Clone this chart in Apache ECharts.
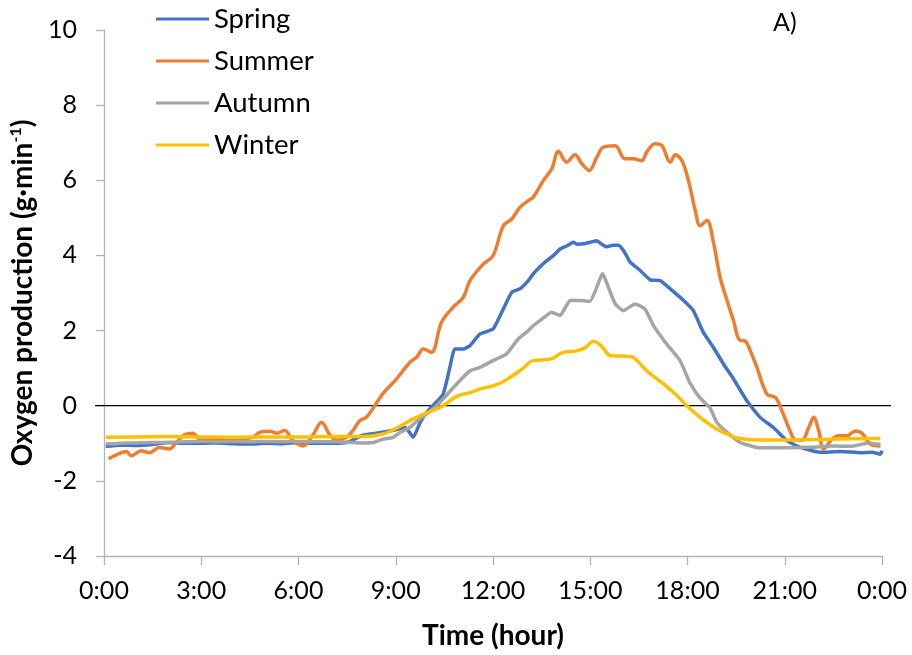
<!DOCTYPE html>
<html>
<head>
<meta charset="utf-8">
<script src="https://cdn.jsdelivr.net/npm/echarts@6/dist/echarts.min.js"></script>
<style>
html,body{margin:0;padding:0;background:#fff;}
#c{width:912px;height:655px;}
</style>
</head>
<body>
<div id="c"></div>
<script>
// ---- data (hours since midnight, oxygen production g/min) ----
const seriesNames = ['Spring', 'Summer', 'Autumn', 'Winter'];

const springT = [0.05,0.5,1,1.5,2,2.5,3,3.5,4,4.5,5,5.5,6,6.5,7,7.5,8,8.5,9,9.3,9.54,9.75,9.95,10.2,10.46,10.67,10.82,11.08,11.29,11.6,12.0,12.27,12.58,12.83,13.09,13.24,13.45,13.66,13.87,14.07,14.27,14.48,14.6,14.79,15.0,15.2,15.35,15.51,15.7,15.87,16.05,16.23,16.54,16.85,17.16,17.47,17.88,18.18,18.49,18.8,19.11,19.42,19.83,20.24,20.65,21.07,21.48,22.1,22.72,23.34,23.7,23.95,24.0];
const springV = [-1.08,-1.05,-1.06,-1.03,-0.98,-1.0,-1.0,-0.99,-1.01,-1.02,-1.0,-1.01,-0.98,-1.0,-1.0,-0.98,-0.78,-0.72,-0.64,-0.58,-0.84,-0.45,-0.18,0.05,0.3,1.02,1.51,1.51,1.6,1.91,2.04,2.49,3.02,3.11,3.33,3.51,3.7,3.86,4.0,4.17,4.25,4.35,4.3,4.31,4.35,4.39,4.3,4.23,4.27,4.27,4.1,3.82,3.6,3.35,3.33,3.11,2.8,2.53,1.95,1.55,1.11,0.71,0.13,-0.31,-0.58,-0.93,-1.11,-1.24,-1.22,-1.25,-1.24,-1.29,-1.2];

const summerT = [0.14,0.4,0.69,0.84,1.15,1.4,1.71,2.02,2.23,2.49,2.74,2.95,3.4,3.77,4.2,4.6,4.8,5.11,5.32,5.57,5.83,6.14,6.45,6.71,6.96,7.17,7.48,7.68,7.89,8.1,8.35,8.61,9.02,9.43,9.64,9.85,10.1,10.41,10.77,11.08,11.29,11.7,12.0,12.32,12.58,12.83,13.09,13.24,13.55,13.81,14.02,14.27,14.53,14.74,14.97,15.2,15.4,15.77,16.07,16.33,16.59,16.74,17.0,17.21,17.47,17.62,17.83,18.03,18.24,18.39,18.6,18.8,19.01,19.22,19.42,19.6,19.78,19.94,20.14,20.45,20.71,20.91,21.12,21.33,21.53,21.74,21.89,22.05,22.2,22.46,22.66,22.92,23.18,23.38,23.64,23.95];
const summerV = [-1.41,-1.3,-1.22,-1.33,-1.2,-1.25,-1.11,-1.15,-0.98,-0.77,-0.73,-0.89,-0.9,-0.91,-0.88,-0.84,-0.71,-0.68,-0.73,-0.66,-0.93,-1.07,-0.77,-0.44,-0.77,-0.92,-0.84,-0.66,-0.4,-0.3,0,0.33,0.71,1.15,1.29,1.51,1.42,2.22,2.62,2.88,3.33,3.77,3.99,4.79,4.97,5.28,5.46,5.55,5.99,6.3,6.77,6.48,6.68,6.44,6.26,6.61,6.88,6.92,6.57,6.57,6.52,6.75,6.97,6.92,6.48,6.68,6.52,5.99,5.19,4.79,4.93,4.35,3.4,2.8,2.26,1.75,1.72,1.46,1.02,0.31,0.22,-0.13,-0.58,-0.91,-0.92,-0.58,-0.31,-0.67,-1.15,-0.89,-0.8,-0.8,-0.67,-0.73,-1.02,-1.07];

const autumnT = [0.06,0.5,1,1.5,2,2.5,3,3.5,4,4.5,5,5.5,6,6.5,7,7.5,8,8.3,8.61,8.92,9.13,9.43,9.64,9.95,10.2,10.46,10.88,11.29,11.6,12.0,12.42,12.78,13.09,13.24,13.5,13.81,14.07,14.38,14.69,14.99,15.2,15.38,15.56,15.77,16.02,16.38,16.69,16.95,17.36,17.77,18.08,18.39,18.7,18.9,19.22,19.63,20.14,20.5,20.86,21.48,22.0,22.4,22.8,23.13,23.54,23.95];
const autumnV = [-1.02,-1.0,-0.99,-0.98,-0.98,-0.96,-0.95,-0.96,-0.95,-0.96,-0.95,-0.96,-0.95,-0.96,-0.96,-0.97,-0.99,-0.98,-0.89,-0.84,-0.71,-0.58,-0.42,-0.22,-0.05,0.18,0.58,0.93,1.02,1.2,1.38,1.78,2.0,2.13,2.3,2.49,2.4,2.8,2.8,2.78,3.15,3.52,3.15,2.71,2.53,2.71,2.57,2.13,1.64,1.2,0.6,0.2,-0.06,-0.44,-0.71,-0.98,-1.11,-1.12,-1.12,-1.11,-1.1,-1.07,-1.08,-1.07,-1.0,-1.03];

const winterT = [0.06,1,2,3,4,5,6,7,8,8.61,8.97,9.54,10.05,10.46,10.88,11.29,11.7,12.11,12.52,12.93,13.24,13.76,14.17,14.58,14.85,15.1,15.35,15.66,16.23,16.5,16.74,17.26,17.67,17.98,18.39,18.9,19.3,19.53,20.14,20.86,21.89,22.92,23.95];
const winterV = [-0.84,-0.83,-0.82,-0.83,-0.84,-0.83,-0.83,-0.82,-0.82,-0.75,-0.62,-0.35,-0.16,0,0.25,0.35,0.47,0.56,0.75,1.0,1.2,1.24,1.42,1.46,1.55,1.71,1.58,1.33,1.31,1.15,0.93,0.58,0.27,0,-0.31,-0.62,-0.78,-0.86,-0.91,-0.91,-0.9,-0.88,-0.87];

const yTicks = { min: -4, max: 10, interval: 2 };
const xTicks = { min: 0, max: 24, interval: 3 };

// ---- chart ----
const FONT = 'Lato';
const colors = ['#4472C4', '#ED7D31', '#A5A5A5', '#FFC000'];
const pairs = (t, v) => t.map((x, i) => [x, v[i]]);
const seriesData = [pairs(springT, springV), pairs(summerT, summerV), pairs(autumnT, autumnV), pairs(winterT, winterV)];
const smoothness = [0.15, 0.35, 0.15, 0.5];

const chart = echarts.init(document.getElementById('c'), null, { renderer: 'canvas' });
chart.setOption({
  animation: false,
  textStyle: { fontFamily: FONT },
  color: colors,
  grid: { left: 104, right: 30, top: 30, bottom: 99, containLabel: false },
  legend: {
    orient: 'vertical', left: 156, top: 5, padding: 0,
    icon: 'rect', itemWidth: 53, itemHeight: 3, itemGap: 14,
    textStyle: { fontFamily: FONT, fontSize: 27.5, color: '#000', lineHeight: 28 },
    data: seriesNames
  },
  xAxis: {
    type: 'value', min: xTicks.min, max: xTicks.max, interval: xTicks.interval,
    name: 'Time (hour)', nameLocation: 'middle', nameGap: 66,
    nameTextStyle: { fontFamily: FONT, fontSize: 28, fontWeight: 'bold', color: '#000' },
    axisLine: { onZero: false, lineStyle: { color: '#b3b3b3', width: 1.3 } },
    axisTick: { show: true, length: 9, lineStyle: { color: '#b3b3b3', width: 1.3 } },
    axisLabel: { margin: 22, fontSize: 25, color: '#000', fontFamily: FONT,
      formatter: v => (v % 24) + ':00' },
    splitLine: { show: false }
  },
  yAxis: {
    type: 'value', min: yTicks.min, max: yTicks.max, interval: yTicks.interval,
    name: '{b|Oxygen production (g·min}{s|-1}{b|)}', nameLocation: 'middle', nameGap: 63,
    nameTextStyle: { rich: {
      b: { fontFamily: FONT, fontSize: 28, fontWeight: 'bold', color: '#000', lineHeight: 30 },
      s: { fontFamily: FONT, fontSize: 16, fontWeight: 'bold', color: '#000', verticalAlign: 'top', lineHeight: 30, padding: [0, 0, 13, 0] }
    } },
    axisLine: { show: true, lineStyle: { color: '#b3b3b3', width: 1.3 } },
    axisTick: { show: true, length: 8, lineStyle: { color: '#b3b3b3', width: 1.3 } },
    axisLabel: { margin: 27, fontSize: 25, color: '#000', fontFamily: FONT },
    splitLine: { show: false }
  },
  series: seriesNames.map((n, i) => ({
    name: n, type: 'line', data: seriesData[i], showSymbol: false, symbol: 'none',
    smooth: smoothness[i], lineStyle: { width: 3.5, color: colors[i] }, z: 3 + i
  }))
});

// zero reference line (extends a little beyond the plot, as in the original)
const p0 = chart.convertToPixel({ gridIndex: 0 }, [xTicks.min, 0]);
const p1 = chart.convertToPixel({ gridIndex: 0 }, [xTicks.max, 0]);
chart.setOption({
  graphic: [
    { type: 'line', z: 2, shape: { x1: p0[0] - 9, y1: p0[1], x2: p1[0] + 9, y2: p1[1] },
      style: { stroke: '#000', lineWidth: 1.2 } },
    { type: 'text', left: 773, top: 10, style: { text: 'A)', fontFamily: FONT, fontSize: 25, fill: '#000' } }
  ]
});
</script>
</body>
</html>
